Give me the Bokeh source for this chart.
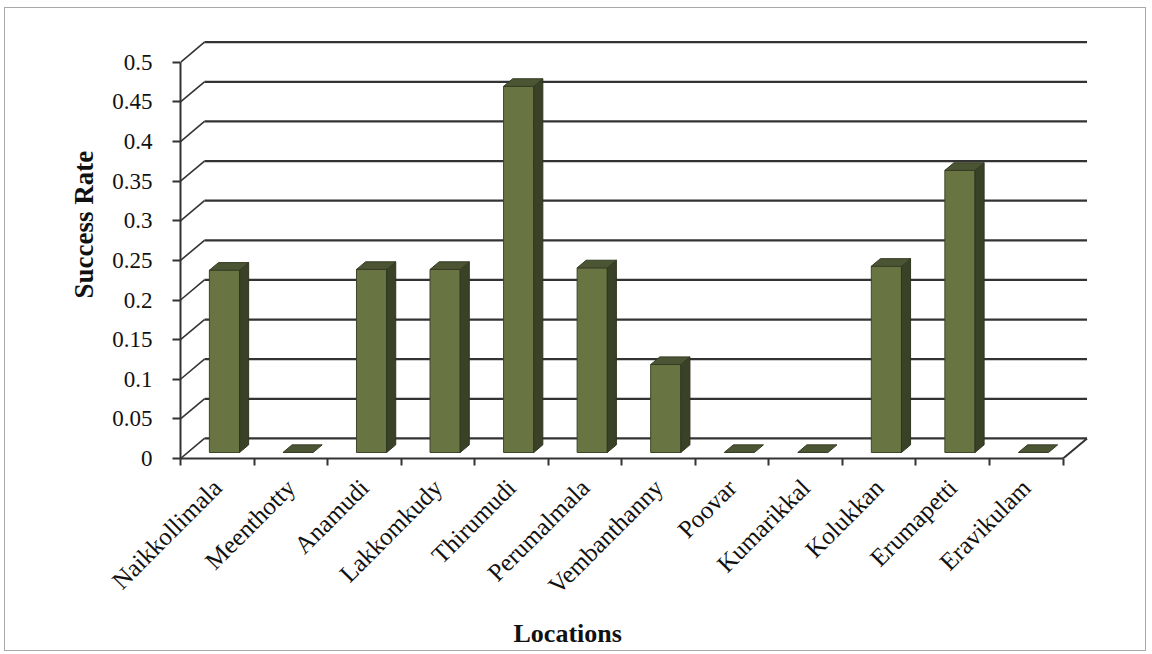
import numpy as np
from math import pi
from bokeh.plotting import figure
from bokeh.models import LinearAxis, FixedTicker, CustomJSTickFormatter, Range1d, Title
from bokeh.embed import file_html
from bokeh.resources import INLINE

# ---------------- data ----------------
locations = ["Naikkollimala", "Meenthotty", "Anamudi", "Lakkomkudy", "Thirumudi",
             "Perumalmala", "Vembanthanny", "Poovar", "Kumarikkal", "Kolukkan",
             "Erumapetti", "Eravikulam"]
success_rate = [0.23, 0.0, 0.231, 0.231, 0.462, 0.233, 0.111, 0.0, 0.0, 0.235, 0.356, 0.0]
y_ticks = [0, 0.05, 0.1, 0.15, 0.2, 0.25, 0.3, 0.35, 0.4, 0.45, 0.5]

# ---------------- pseudo-3D geometry (data units) ----------------
DX, DY = 0.326, 0.0253      # depth vector of the floor / back wall
BAR_W = 0.41                # bar front-face width
F0, F1 = 0.30, 0.68         # bar front / back depth fractions
n = len(locations)
xc = np.arange(n, dtype=float)
vals = np.array(success_rate)
X0, X1 = -0.5, n - 0.5

FONT = "Liberation Serif"
LINE = "#333333"

p = figure(width=1142, height=644,
           x_range=Range1d(X0, X1 + DX + 0.02), y_range=Range1d(0, 0.53),
           output_backend="svg", toolbar_location=None,
           x_axis_location=None, y_axis_location=None,
           min_border_left=175, min_border_right=59, min_border_top=30, min_border_bottom=194)
p.grid.visible = False
p.outline_line_color = None
p.background_fill_color = "white"
p.border_fill_color = "white"
p.styles = {"margin-left": "4px", "margin-top": "7px", "border": "1.5px solid #a8a8a8"}

# back wall gridlines
yt = np.array(y_ticks, dtype=float)
p.segment(x0=np.full_like(yt, X0 + DX), y0=yt + DY, x1=np.full_like(yt, X1 + DX), y1=yt + DY,
          line_color=LINE, line_width=2.2)
# side wall diagonals
p.segment(x0=np.full_like(yt, X0), y0=yt, x1=np.full_like(yt, X0 + DX), y1=yt + DY,
          line_color=LINE, line_width=1.6)
# floor right edge
p.segment(x0=[X1], y0=[0], x1=[X1 + DX], y1=[DY], line_color=LINE, line_width=2)

# bars
d = F1 - F0
left = xc + F0 * DX - BAR_W / 2
right = xc + F0 * DX + BAR_W / 2
bot = np.full(n, F0 * DY)
top = vals + F0 * DY
nz = vals > 0

p.quad(left=left[nz], right=right[nz], bottom=bot[nz], top=top[nz],
       fill_color="#687543", line_color="#3d4529", line_width=1)
side_xs = [[r, r + d * DX, r + d * DX, r] for r in right[nz]]
side_ys = [[b, b + d * DY, t + d * DY, t] for b, t in zip(bot[nz], top[nz])]
p.patches(side_xs, side_ys, fill_color="#394126", line_color="#2f3520", line_width=1)
top_xs = [[l, r, r + d * DX, l + d * DX] for l, r in zip(left, right)]
top_ys = [[t, t, t + d * DY, t + d * DY] for t in top]
p.patches(top_xs, top_ys, fill_color="#4b5433", line_color="#353c24", line_width=1)

# y axis (front)
yaxis = LinearAxis(ticker=FixedTicker(ticks=y_ticks),
                   formatter=CustomJSTickFormatter(code="return String(Math.round(tick*100)/100);"),
                   bounds=(0, 0.5))
yaxis.axis_line_color = LINE
yaxis.axis_line_width = 2
yaxis.major_tick_line_color = LINE
yaxis.major_tick_line_width = 2
yaxis.major_tick_out = 8
yaxis.major_tick_in = 0
yaxis.minor_tick_line_color = None
yaxis.major_label_standoff = 20
yaxis.major_label_text_font = FONT
yaxis.major_label_text_font_size = "23px"
yaxis.major_label_text_color = "#111111"
p.add_layout(yaxis, "left")

# x axis (front floor edge)
xaxis = LinearAxis(ticker=FixedTicker(ticks=list(range(n)), minor_ticks=[k - 0.5 for k in range(n + 1)]),
                   formatter=CustomJSTickFormatter(args=dict(names=locations),
                                                   code="const i = Math.round(tick); return (i >= 0 && i < names.length) ? names[i] : '';"),
                   bounds=(X0, X1))
xaxis.axis_line_color = LINE
xaxis.axis_line_width = 2.2
xaxis.major_tick_line_color = None
xaxis.major_tick_out = 0
xaxis.major_tick_in = 0
xaxis.minor_tick_line_color = LINE
xaxis.minor_tick_line_width = 2
xaxis.minor_tick_out = 7
xaxis.minor_tick_in = 0
xaxis.major_label_orientation = pi / 4
xaxis.major_label_standoff = 18
xaxis.major_label_text_font = FONT
xaxis.major_label_text_font_size = "25px"
xaxis.major_label_text_color = "#111111"
p.add_layout(xaxis, "below")

# axis titles
ytitle = Title(text="Success Rate", align="left", offset=160, standoff=22,
               text_font=FONT, text_font_style="bold", text_font_size="27px", text_color="#111111")
p.add_layout(ytitle, "left")
xtitle = Title(text="Locations", align="left", offset=333, standoff=10,
               text_font=FONT, text_font_style="bold", text_font_size="26px", text_color="#111111")
p.add_layout(xtitle, "below")

open("out.html", "w").write(file_html(p, INLINE))
